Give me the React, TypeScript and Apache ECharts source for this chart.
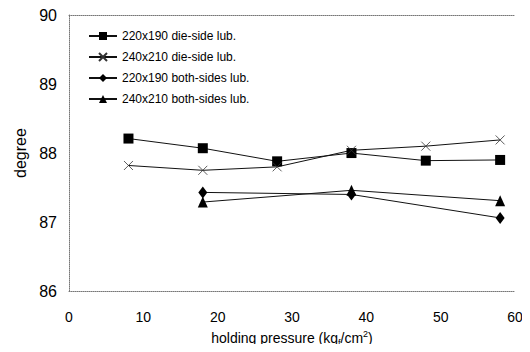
import React, { useEffect, useRef } from "react";
import * as echarts from "echarts";

const seriesNames = [
  "220x190 die-side lub.",
  "240x210 die-side lub.",
  "220x190 both-sides lub.",
  "240x210 both-sides lub.",
];
const xDie = [8, 18, 28, 38, 48, 58];
const xBoth = [18, 38, 58];
const sq220Die = [88.21, 88.07, 87.88, 88.0, 87.89, 87.9];
const x240Die = [87.82, 87.75, 87.8, 88.04, 88.1, 88.19];
const dia220Both = [87.43, 87.4, 87.06];
const tri240Both = [87.29, 87.46, 87.31];
const xTicks = [0, 10, 20, 30, 40, 50, 60];
const yTicks = [86, 87, 88, 89, 90];

const FONT = "'Liberation Sans', Arial, sans-serif";

function pairs(xs: number[], ys: number[]) {
  return xs.map((x, i) => [x, ys[i]]);
}

export default function App() {
  const ref = useRef<HTMLDivElement>(null);
  useEffect(() => {
    if (!ref.current) return;
    const chart = echarts.init(ref.current, undefined, { renderer: "svg" });
    const lineStyle = { color: "#111", width: 1 };
    const mk = (name: string, data: number[][], symbol: string, size: any, extra: any = {}) => ({
      name,
      type: "line",
      data,
      symbol,
      symbolSize: size,
      showSymbol: true,
      lineStyle,
      itemStyle: { color: "#000", borderColor: "#000", borderWidth: 0, ...extra },
      z: 3,
    });
    const dotted = { color: "#777", width: 1, type: [1, 1] as any };
    chart.setOption({
      animation: false,
      textStyle: { fontFamily: FONT },
      grid: { left: 69, right: 15, top: 15, bottom: 56 },
      legend: {
        orient: "vertical",
        left: 83,
        top: 24,
        itemWidth: 28,
        itemHeight: 10,
        itemGap: 7,
        textStyle: {
          fontSize: 12,
          lineHeight: 14,
          color: "#000",
          fontFamily: FONT,
          padding: [0, 0, 0, 0],
        },
        data: seriesNames,
      },
      xAxis: [
        {
          type: "value",
          min: 0,
          max: 60,
          interval: 10,
          axisLine: { show: true, lineStyle: dotted },
          axisTick: { show: false },
          splitLine: { show: false },
          axisLabel: {
            fontSize: 14,
            color: "#000",
            margin: 19,
            formatter: (v: number) => (xTicks.includes(v) ? String(v) : ""),
          },
          name: "holding pressure (kg{sub|f}/cm{sup|2})",
          nameLocation: "middle",
          nameGap: 31,
          nameTextStyle: {
            fontSize: 14,
            color: "#000",
            lineHeight: 18,
            rich: {
              sub: { fontSize: 9, lineHeight: 9, verticalAlign: "bottom", color: "#000" },
              sup: { fontSize: 9, lineHeight: 9, verticalAlign: "top", color: "#000" },
            },
          },
        },
        {
          type: "value",
          position: "top",
          min: 0,
          max: 60,
          interval: 10,
          axisLine: { show: true, onZero: false, lineStyle: dotted },
          axisTick: { show: false },
          axisLabel: { show: false },
          splitLine: { show: false },
        },
      ],
      yAxis: {
        type: "value",
        min: 86,
        max: 90,
        interval: 1,
        axisLine: { show: true, lineStyle: dotted },
        axisTick: { show: false },
        splitLine: { show: false },
        axisLabel: {
          fontSize: 16,
          color: "#000",
          margin: 12,
          formatter: (v: number) => (yTicks.includes(v) ? String(v) : ""),
        },
        name: "degree",
        nameLocation: "middle",
        nameGap: 40,
        nameTextStyle: { fontSize: 16, color: "#000" },
      },
      series: [
        mk(seriesNames[0], pairs(xDie, sq220Die), "rect", 10),
        mk(seriesNames[1], pairs(xDie, x240Die), "path://M0,0L10,10M10,0L0,10", 9, {
          color: "#333",
          borderColor: "#333",
          borderWidth: 0.8,
        }),
        mk(seriesNames[2], pairs(xBoth, dia220Both), "diamond", [9, 12]),
        mk(seriesNames[3], pairs(xBoth, tri240Both), "triangle", [10, 11]),
      ],
    });
    return () => chart.dispose();
  }, []);
  return <div ref={ref} style={{ width: 530, height: 352, margin: -8 }} />;
}
